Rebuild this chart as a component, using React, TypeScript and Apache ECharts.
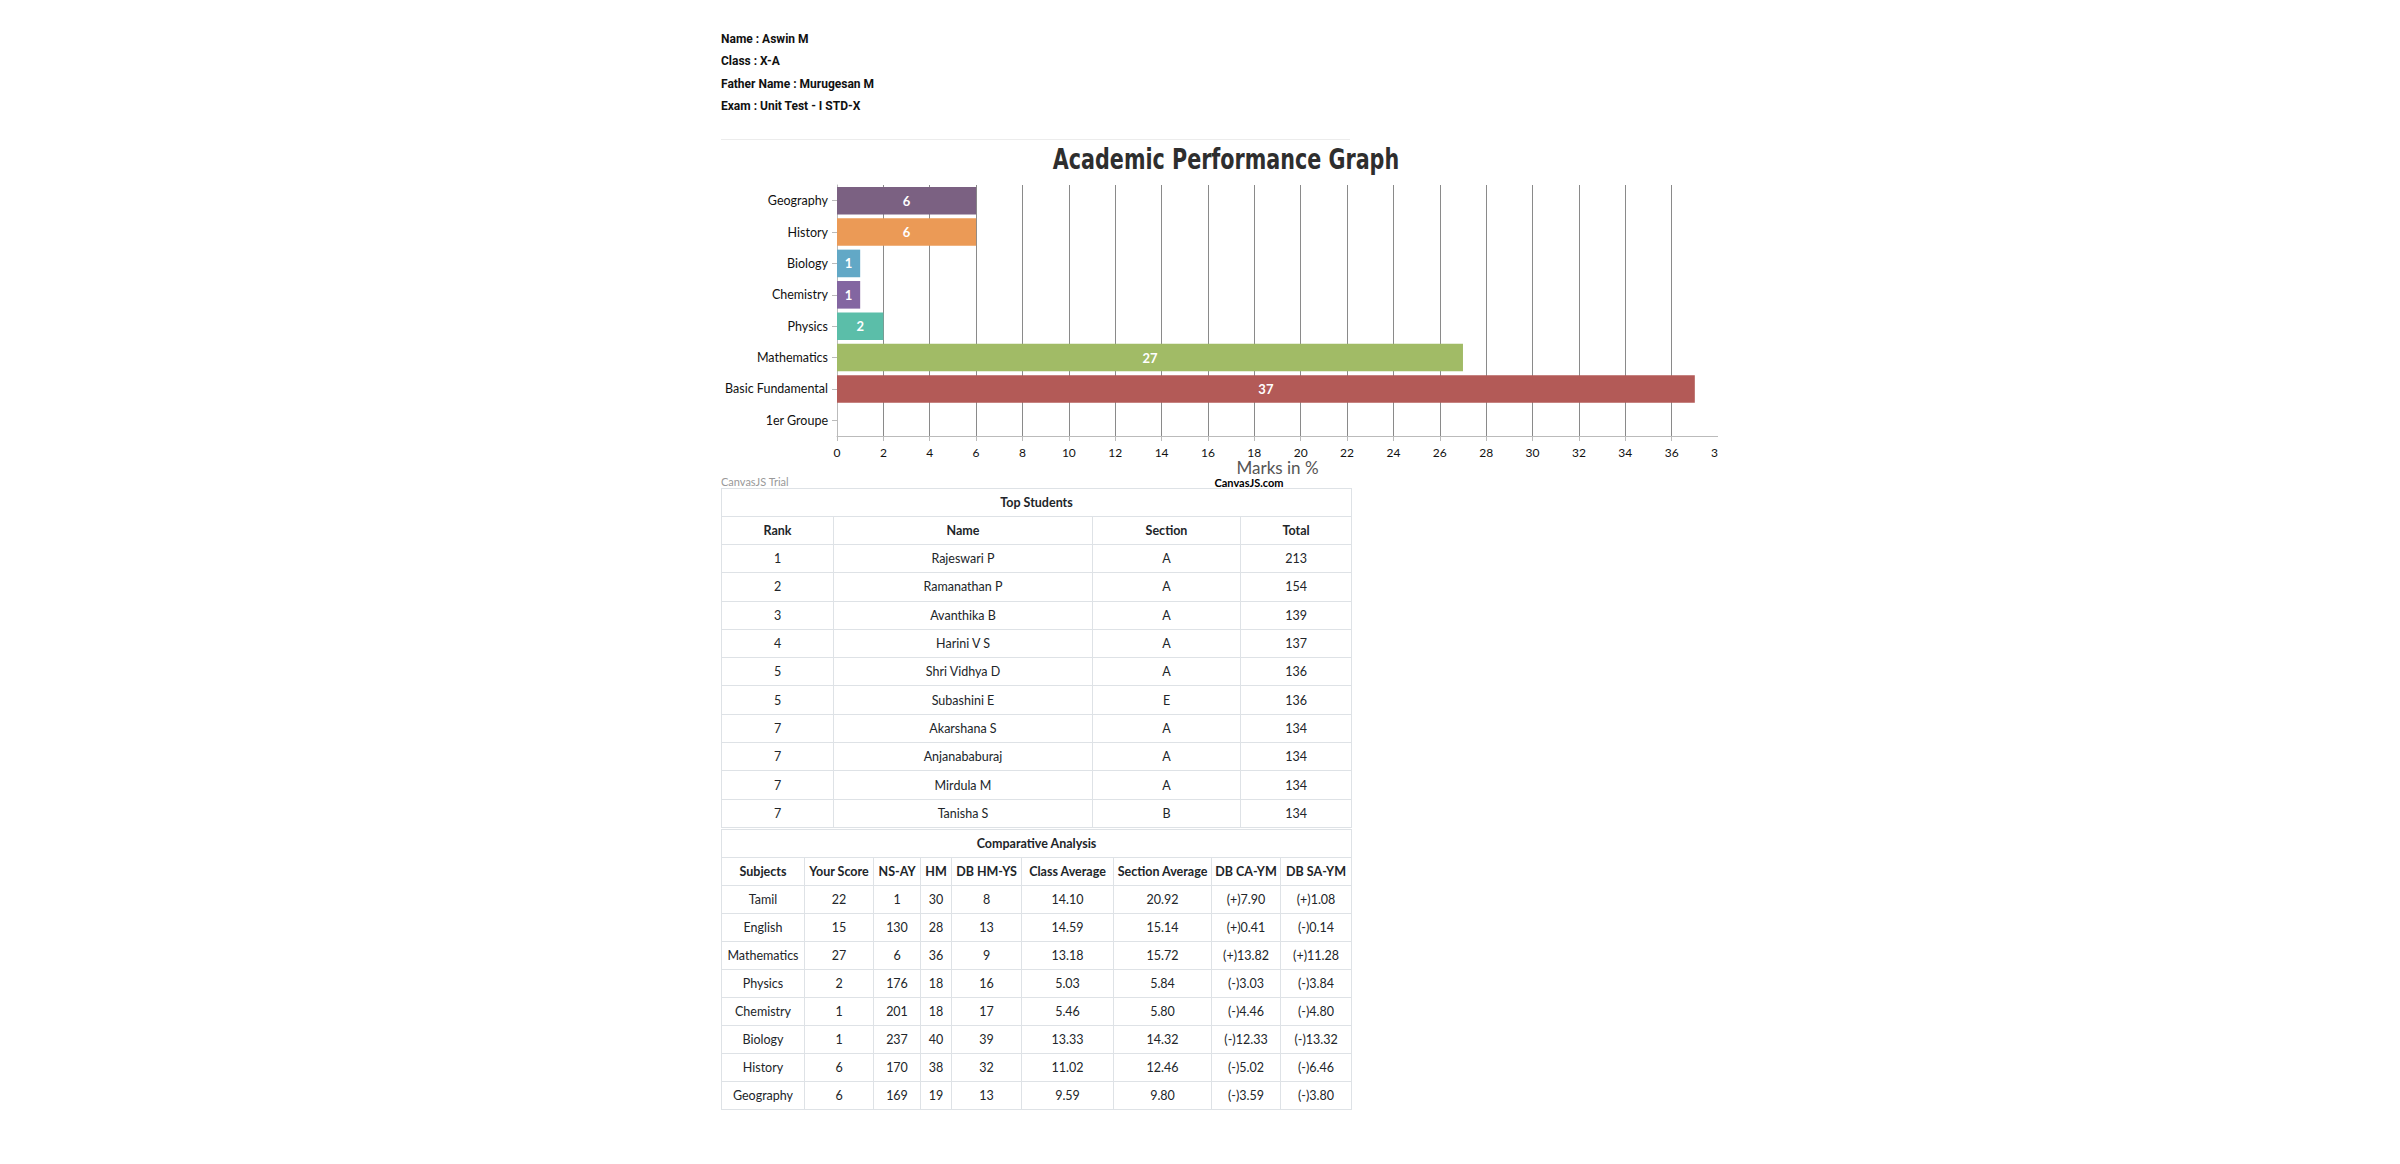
import React, { useEffect, useRef } from "react";
import * as echarts from "echarts";

// ---------- data ----------
const studentInfo = [
  "Name : Aswin M",
  "Class : X-A",
  "Father Name : Murugesan M",
  "Exam : Unit Test - I STD-X",
];

const chartTitle = "Academic Performance Graph";
const axisName = "Marks in %";
const categories = [
  "1er Groupe",
  "Basic Fundamental",
  "Mathematics",
  "Physics",
  "Chemistry",
  "Biology",
  "History",
  "Geography",
];
const marks: (number | null)[] = [null, 37, 27, 2, 1, 1, 6, 6];
const barColors = [
  "#4F81BC",
  "#B35A57",
  "#A1BB66",
  "#5BBEA9",
  "#8366A1",
  "#62A8C6",
  "#EB9A56",
  "#7B6182",
];
const xMin = 0;
const xMax = 38;
const xInterval = 2;

const topTitle = "Top Students";
const topHeaders = ["Rank", "Name", "Section", "Total"];
const topRanks = ["1", "2", "3", "4", "5", "5", "7", "7", "7", "7"];
const topNames = [
  "Rajeswari P",
  "Ramanathan P",
  "Avanthika B",
  "Harini V S",
  "Shri Vidhya D",
  "Subashini E",
  "Akarshana S",
  "Anjanababuraj",
  "Mirdula M",
  "Tanisha S",
];
const topSections = ["A", "A", "A", "A", "A", "E", "A", "A", "A", "B"];
const topTotals = ["213", "154", "139", "137", "136", "136", "134", "134", "134", "134"];

const compTitle = "Comparative Analysis";
const compHeaders = [
  "Subjects",
  "Your Score",
  "NS-AY",
  "HM",
  "DB HM-YS",
  "Class Average",
  "Section Average",
  "DB CA-YM",
  "DB SA-YM",
];
const compSubjects = ["Tamil", "English", "Mathematics", "Physics", "Chemistry", "Biology", "History", "Geography"];
const compScore = ["22", "15", "27", "2", "1", "1", "6", "6"];
const compNsAy = ["1", "130", "6", "176", "201", "237", "170", "169"];
const compHm = ["30", "28", "36", "18", "18", "40", "38", "19"];
const compDbHmYs = ["8", "13", "9", "16", "17", "39", "32", "13"];
const compClassAvg = ["14.10", "14.59", "13.18", "5.03", "5.46", "13.33", "11.02", "9.59"];
const compSectionAvg = ["20.92", "15.14", "15.72", "5.84", "5.80", "14.32", "12.46", "9.80"];
const compDbCa = ["(+)7.90", "(+)0.41", "(+)13.82", "(-)3.03", "(-)4.46", "(-)12.33", "(-)5.02", "(-)3.59"];
const compDbSa = ["(+)1.08", "(-)0.14", "(+)11.28", "(-)3.84", "(-)4.80", "(-)13.32", "(-)6.46", "(-)3.80"];

// ---------- layout ----------
const topColWidths = [112, 259, 148, 111];
const compColWidths = [83, 69, 47, 31, 70, 92, 98, 69, 71];

const cellStyle: React.CSSProperties = {
  border: "1px solid #dee2e6",
  textAlign: "center",
  verticalAlign: "middle",
  padding: 0,
  height: 27,
  whiteSpace: "nowrap",
  overflow: "hidden",
};

function Chart() {
  const ref = useRef<HTMLDivElement>(null);
  useEffect(() => {
    if (!ref.current) return;
    const chart = echarts.init(ref.current, null, { renderer: "svg" });
    const font = "Lato";
    chart.setOption({
      animation: false,
      grid: {
        left: 116,
        right: 0,
        top: 45,
        bottom: 52,
        containLabel: false,
        outerBoundsMode: "none",
      },
      xAxis: {
        type: "value",
        min: xMin,
        max: xMax,
        interval: xInterval,
        name: axisName,
        nameLocation: "middle",
        nameGap: 23,
        nameMoveOverlap: false,
        nameTextStyle: { fontFamily: font, fontSize: 17, lineHeight: 17, color: "#555" },
        axisLine: { show: true, lineStyle: { color: "#bbb", width: 1 } },
        axisTick: { show: true, length: 5, lineStyle: { color: "#bbb" } },
        axisLabel: { fontFamily: font, fontSize: 12, color: "#111", margin: 10 },
        splitLine: { show: true, showMaxLine: false, lineStyle: { color: "#8a8a8a", width: 1 } },
      },
      yAxis: {
        type: "category",
        data: categories,
        axisLine: { show: true, lineStyle: { color: "#bbb", width: 1 } },
        axisTick: { show: true, alignWithLabel: true, length: 5, lineStyle: { color: "#bbb" } },
        axisLabel: { fontFamily: font, fontSize: 12.5, color: "#111", margin: 9 },
        splitLine: { show: false },
      },
      series: [
        {
          type: "bar",
          barCategoryGap: "12%",
          data: marks.map((v, i) => ({
            value: v === null ? "-" : v,
            itemStyle: { color: barColors[i] },
          })),
          label: {
            show: true,
            position: "inside",
            color: "#fff",
            fontFamily: font,
            fontWeight: "bold",
            fontSize: 13,
          },
        },
      ],
      graphic: [
        {
          type: "text",
          x: 505,
          y: 19,
          scaleY: 1.2,
          style: {
            text: chartTitle,
            fontFamily: "DejaVu Sans Condensed",
            fontWeight: "bold",
            fontSize: 23,
            fill: "#2e2e2e",
            align: "center",
            verticalAlign: "middle",
            textAlign: "center",
            textVerticalAlign: "middle",
          },
        },
        {
          type: "text",
          x: 0,
          y: 341,
          style: {
            text: "CanvasJS Trial",
            fontFamily: font,
            fontSize: 11,
            lineHeight: 11,
            fill: "#999",
            align: "left",
            verticalAlign: "middle",
            textAlign: "left",
            textVerticalAlign: "middle",
          },
        },
        {
          type: "text",
          x: 528,
          y: 342,
          style: {
            text: "CanvasJS.com",
            fontFamily: font,
            fontWeight: "bold",
            fontSize: 11,
            lineHeight: 11,
            fill: "#000",
            align: "center",
            verticalAlign: "middle",
            textAlign: "center",
            textVerticalAlign: "middle",
          },
        },
      ],
    });
    return () => chart.dispose();
  }, []);
  return (
    <div
      ref={ref}
      style={{ position: "absolute", left: 713, top: 132, width: 997, height: 348 }}
    />
  );
}

function TopTable() {
  const rowCell = { ...cellStyle, height: 27.3 };
  return (
    <table
      style={{
        position: "absolute",
        left: 713,
        top: 480,
        width: 630,
        borderCollapse: "collapse",
        tableLayout: "fixed",
        fontFamily: "Lato",
        fontSize: 12.5,
        color: "#212529",
      }}
    >
      <colgroup>
        {topColWidths.map((w, i) => (
          <col key={i} style={{ width: w }} />
        ))}
      </colgroup>
      <tbody>
        <tr>
          <td colSpan={4} style={{ ...cellStyle, fontWeight: "bold" }}>
            {topTitle}
          </td>
        </tr>
        <tr>
          {topHeaders.map((h) => (
            <td key={h} style={{ ...cellStyle, fontWeight: "bold" }}>
              {h}
            </td>
          ))}
        </tr>
        {topNames.map((n, i) => (
          <tr key={i}>
            <td style={rowCell}>{topRanks[i]}</td>
            <td style={rowCell}>{n}</td>
            <td style={rowCell}>{topSections[i]}</td>
            <td style={rowCell}>{topTotals[i]}</td>
          </tr>
        ))}
      </tbody>
    </table>
  );
}

function CompTable() {
  const cols = [
    compSubjects,
    compScore,
    compNsAy,
    compHm,
    compDbHmYs,
    compClassAvg,
    compSectionAvg,
    compDbCa,
    compDbSa,
  ];
  return (
    <table
      style={{
        position: "absolute",
        left: 713,
        top: 821,
        width: 630,
        borderCollapse: "collapse",
        tableLayout: "fixed",
        fontFamily: "Lato",
        fontSize: 12.5,
        color: "#212529",
      }}
    >
      <colgroup>
        {compColWidths.map((w, i) => (
          <col key={i} style={{ width: w }} />
        ))}
      </colgroup>
      <tbody>
        <tr>
          <td colSpan={9} style={{ ...cellStyle, fontWeight: "bold" }}>
            {compTitle}
          </td>
        </tr>
        <tr>
          {compHeaders.map((h) => (
            <td key={h} style={{ ...cellStyle, fontWeight: "bold" }}>
              {h}
            </td>
          ))}
        </tr>
        {compSubjects.map((_, r) => (
          <tr key={r}>
            {cols.map((c, k) => (
              <td key={k} style={cellStyle}>
                {c[r]}
              </td>
            ))}
          </tr>
        ))}
      </tbody>
    </table>
  );
}

export default function App() {
  return (
    <div style={{ position: "relative", width: 2384, height: 1140, background: "#fff" }}>
      <div
        style={{
          position: "absolute",
          left: 713,
          top: 20,
          fontFamily: "Roboto",
          fontWeight: "bold",
          fontSize: 12,
          color: "#111",
          lineHeight: "22.4px",
        }}
      >
        {studentInfo.map((s) => (
          <div key={s}>{s}</div>
        ))}
      </div>
      <div
        style={{
          position: "absolute",
          left: 713,
          top: 131,
          width: 629,
          height: 0,
          borderTop: "1px solid #ececec",
        }}
      />
      <Chart />
      <TopTable />
      <CompTable />
    </div>
  );
}
